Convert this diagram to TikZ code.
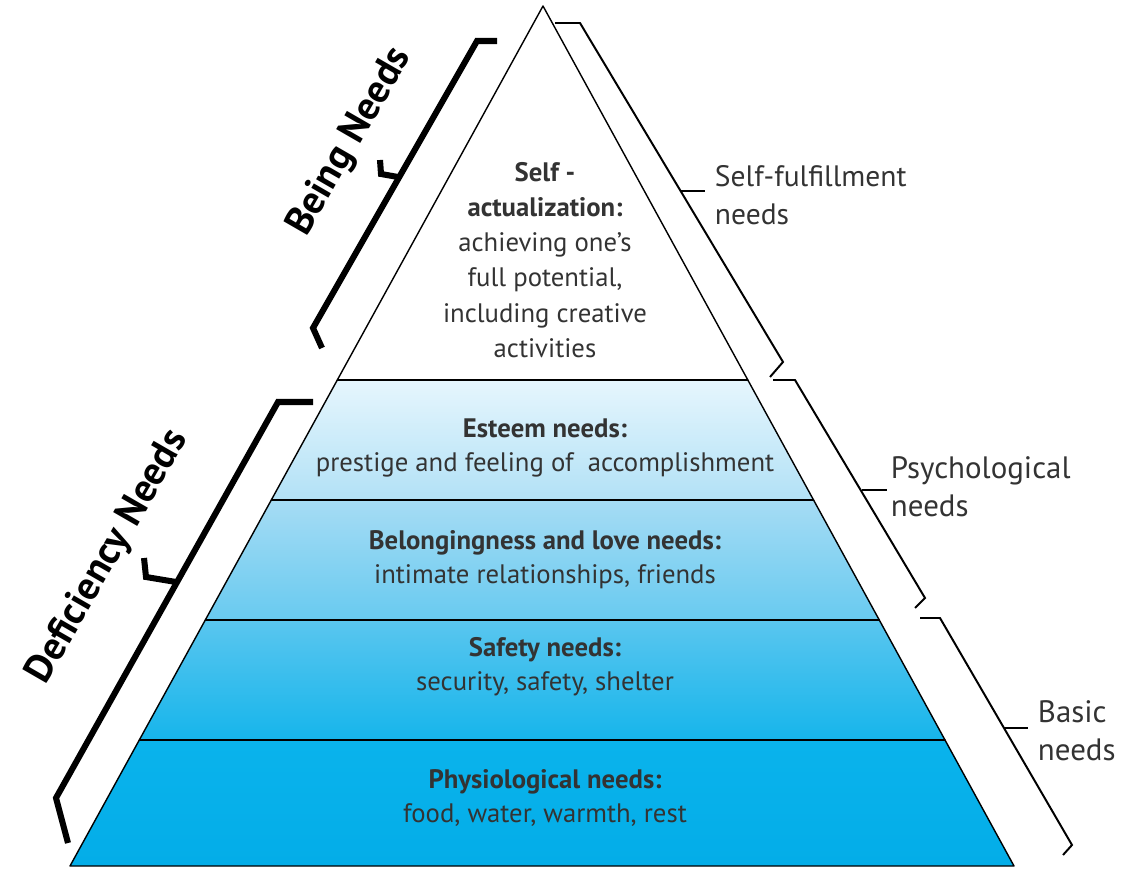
\documentclass[tikz,border=0pt]{standalone}
\usepackage{fontspec}
\setmainfont{PT Sans}
\usepackage{tikz}
\definecolor{EsteemTop}{HTML}{E6F6FD}
\definecolor{EsteemBot}{HTML}{B2E1F6}
\definecolor{LoveTop}{HTML}{A6DCF4}
\definecolor{LoveBot}{HTML}{68CAF0}
\definecolor{SafeTop}{HTML}{5AC6EF}
\definecolor{SafeBot}{HTML}{16B5EB}
\definecolor{BodyTop}{HTML}{0AB3EC}
\definecolor{BodyBot}{HTML}{03ADE8}
\definecolor{TextGray}{HTML}{333333}
\tikzset{
  needtext/.style={align=center,text=TextGray,font=\fontsize{19}{24}\selectfont},
  sidelabel/.style={anchor=west,align=left,text=TextGray,font=\fontsize{22}{27}\selectfont},
  grouplabel/.style={font=\bfseries\fontsize{28}{32}\selectfont,rotate=60},
  heavybrace/.style={line width=4.3pt,line cap=butt,line join=miter},
  lightbrace/.style={line width=1.4pt,line cap=butt,line join=miter}
}

\begin{document}
\begin{tikzpicture}[line cap=round,line join=round,x=0.025cm,y=-0.025cm]
  \useasboundingbox (0,0) rectangle (1124,872);
  % layers of the pyramid
  \shade[top color=EsteemTop,bottom color=EsteemBot] (337.3,380) -- (747.8,380) -- (813.6,500) -- (271.3,500) -- cycle;
  \shade[top color=LoveTop,bottom color=LoveBot] (271.3,500) -- (813.6,500) -- (879.3,620) -- (205.3,620) -- cycle;
  \shade[top color=SafeTop,bottom color=SafeBot] (205.3,620) -- (879.3,620) -- (945.0,740) -- (139.3,740) -- cycle;
  \shade[top color=BodyTop,bottom color=BodyBot] (139.3,740) -- (945.0,740) -- (1014,866) -- (70,866) -- cycle;
  \draw [line width=1pt] (543,6) -- (70,866) -- (1014,866) -- cycle;
  \draw [line width=1pt] (337.3,380) -- (747.8,380);
  \draw [line width=1pt] (271.3,500) -- (813.6,500);
  \draw [line width=1pt] (205.3,620) -- (879.3,620);
  \draw [line width=1pt] (139.3,740) -- (945.0,740);
  % texts in the layers
  \node[needtext,font=\fontsize{19}{25}\selectfont] (selfact) at (545,260) {\textbf{Self -}\\ \textbf{actualization:}\\ achieving one’s\\ full potential,\\ including creative\\ activities};
  \node[needtext] (esteem) at (545,448) {\textbf{Esteem needs:}\\ prestige and feeling of\ \ accomplishment};
  \node[needtext] (love) at (545,560) {\textbf{Belongingness and love needs:}\\ intimate relationships, friends};
  \node[needtext] (safety) at (545,667) {\textbf{Safety needs:}\\ security, safety, shelter};
  \node[needtext] (body) at (545,798) {\textbf{Physiological needs:}\\ food, water, warmth, rest};
  % left side
  \draw [heavybrace] (497,41) -- (477,41) -- (313,328) -- (322,348);
  \draw [heavybrace] (380,160) -- (381,174) -- (398,177);
  \draw [heavybrace] (313,402) -- (278,402) -- (56,798) -- (68,843);
  \draw [heavybrace] (144,558) -- (146,577) -- (176,582);
  \node[grouplabel] (being) at (350,142) {Being Needs};
  \node[grouplabel] (deficiency) at (108,557) {Deficiency Needs};
  % right side
  \draw [lightbrace] (555,23) -- (580,23) -- (783,362) -- (770,377);
  \draw [lightbrace] (680,191) -- (705,191);
  \draw [lightbrace] (773,380) -- (795,380) -- (925,598) -- (915,608);
  \draw [lightbrace] (862,490) -- (887,490);
  \draw [lightbrace] (920,618) -- (940,618) -- (1072,845) -- (1063,855);
  \draw [lightbrace] (1004,728) -- (1028,728);
  \node[sidelabel,font=\fontsize{21}{27}\selectfont] (fulfil) at (710,195) {Self-fulfillment\\ needs};
  \node[sidelabel] (psych) at (886,487) {Psychological\\ needs};
  \node[sidelabel] (basic) at (1033,731) {Basic\\ needs};
\end{tikzpicture}
\end{document}
